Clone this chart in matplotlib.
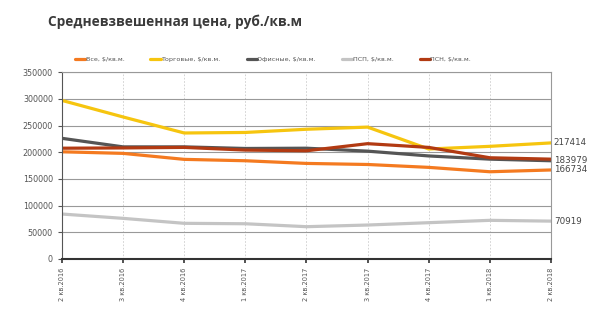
import matplotlib
matplotlib.use("Agg")
import matplotlib.pyplot as plt

quarters = ["2 кв.2016", "3 кв.2016", "4 кв.2016", "1 кв.2017", "2 кв.2017",
            "3 кв.2017", "4 кв.2017", "1 кв.2018", "2 кв.2018"]
vse = [200800, 197800, 186600, 184000, 179000, 177000, 171600, 163400, 166734]
torg = [297000, 266000, 236000, 237000, 243000, 247000, 206000, 211000, 217414]
ofis = [226000, 210000, 210000, 207000, 207500, 202000, 193000, 187000, 183979]
psp = [84200, 76100, 66800, 66000, 60500, 63600, 68000, 72400, 70919]
psn = [207500, 208000, 209000, 204000, 202700, 216000, 209000, 189600, 187000]

series = [
    ("Все, $/кв.м.", vse, "#F47A20"),
    ("Торговые, $/кв.м.", torg, "#F6C50F"),
    ("Офисные, $/кв.м.", ofis, "#555555"),
    ("ПСП, $/кв.м.", psp, "#C4C4C4"),
    ("ПСН, $/кв.м.", psn, "#B23A12"),
]
end_labels = [("217414", torg[-1]), ("183979", ofis[-1]),
              ("166734", vse[-1]), ("70919", psp[-1])]

fig = plt.figure(figsize=(6.0, 3.22), dpi=100)
ax = fig.add_axes([0.1033, 0.1957, 0.815, 0.5803])
x = list(range(len(quarters)))
for name, vals, col in series:
    ax.plot(x, vals, color=col, lw=2.3, label=name, solid_joinstyle="round",
            solid_capstyle="round")

ax.set_xlim(0, len(quarters) - 1)
ax.set_ylim(0, 350000)
ax.set_yticks(range(0, 350001, 50000))
ax.set_xticks(x)
ax.set_xticklabels(quarters, rotation=90, fontsize=4.8, color="#555555")
ax.tick_params(axis="y", labelsize=5.8, colors="#555555", length=3, width=0.8)
ax.tick_params(axis="x", length=3, width=1.2, colors="#333333", labelcolor="#555555")
ax.grid(axis="y", color="#999999", lw=0.8)
ax.grid(axis="x", color="#CCCCCC", lw=0.6, ls=(0, (2, 2)))
ax.set_axisbelow(True)
for s in ["top", "right"]:
    ax.spines[s].set_color("#999999")
    ax.spines[s].set_linewidth(0.8)
ax.spines["left"].set_color("#555555")
ax.spines["bottom"].set_color("#333333")
ax.spines["bottom"].set_linewidth(1.5)

for txt, v in end_labels:
    ax.annotate(txt, (x[-1], v), xytext=(2, 0), textcoords="offset points",
                fontsize=6.3, color="#444444", va="center", ha="left",
                annotation_clip=False)

fig.text(0.08, 0.932, "Средневзвешенная цена, руб./кв.м", fontsize=9.8,
         fontweight="bold", family="Open Sans", color="#3a3a3a", ha="left", va="center")
fig.legend(loc="lower left", bbox_to_anchor=(0.115, 0.79, 0.68, 0.05), mode="expand",
           ncol=5, frameon=False, fontsize=4.6, handlelength=1.6, handletextpad=0.1,
           labelcolor="#555555")

fig.savefig("out.png", dpi=100, facecolor="white")
